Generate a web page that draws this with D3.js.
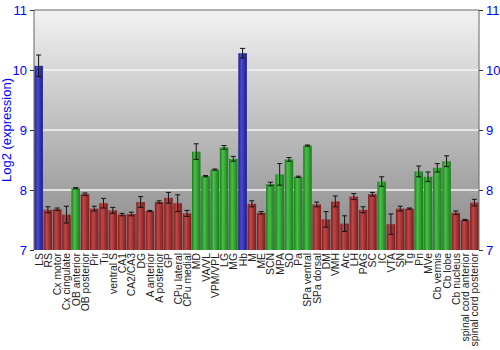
<!DOCTYPE html>
<html><head><meta charset="utf-8">
<script src="https://cdn.jsdelivr.net/npm/d3@7"></script>
<style>body{margin:0;background:#fff}</style>
</head><body>
<svg id="c" width="500" height="350"></svg>
<script>
const categories = ["LS","RS","Cx motor","Cx cingulate","OB anterior","OB posterior","Pir","Tu","ventral S","CA1","CA2/CA3","DG","A anterior","A posterior","GP","CPu lateral","CPu medial","MD","VA/VL","VPM/VPL","LG","MG","Hb","M","ME","SCN","MPA","SO","Pa","SPa ventral","SPa dorsal","DM","VMH","Arc","LH","PAG","SC","IC","VTA","SN","Tg","Pn","MVe","Cb vermis","Cb lobe","Cb nucleus","spinal cord anterior","spinal cord posterior"];
const values = [10.07,7.67,7.68,7.59,8.03,7.93,7.69,7.78,7.66,7.59,7.6,7.8,7.65,7.8,7.87,7.78,7.61,8.64,8.23,8.34,8.71,8.52,10.28,7.77,7.62,8.1,8.26,8.51,8.22,8.74,7.76,7.51,7.81,7.44,7.89,7.67,7.93,8.14,7.43,7.69,7.69,8.31,8.22,8.37,8.48,7.62,7.5,7.79];
const errors = [0.18,0.05,0.02,0.14,0.01,0.02,0.04,0.08,0.05,0.02,0.03,0.09,0.01,0.02,0.09,0.14,0.05,0.13,0.01,0.01,0.03,0.04,0.08,0.05,0.02,0.03,0.18,0.03,0.01,0.01,0.04,0.13,0.09,0.13,0.05,0.05,0.03,0.08,0.17,0.04,0.01,0.09,0.08,0.07,0.09,0.03,0.01,0.055];
const groups = ["b","r","r","r","g","r","r","r","r","r","r","r","r","r","r","r","r","g","g","g","g","g","b","r","r","g","g","g","g","g","r","r","r","r","r","r","r","g","r","r","r","g","g","g","g","r","r","r"];
const yTicks = [7,8,9,10,11];

const svg = d3.select("#c");
const m = {l:34, r:479, t:10, b:250};
const x = d3.scaleBand().domain(categories).range([m.l, m.r]).paddingInner(0.08).paddingOuter(0.04);
const y = d3.scaleLinear().domain([7,11]).range([m.b, m.t]);

const defs = svg.append("defs");
const bg = defs.append("linearGradient").attr("id","bg").attr("x1",0).attr("y1",0).attr("x2",0).attr("y2",1);
bg.append("stop").attr("offset","0%").attr("stop-color","#f2f2f2");
bg.append("stop").attr("offset","100%").attr("stop-color","#878787");
const cols = {b:["#1c1c8c","#4a4ad0"], r:["#7a1c1c","#c04848"], g:["#1c7a1c","#48c048"]};
Object.entries(cols).forEach(([k,c])=>{
  const g = defs.append("linearGradient").attr("id","g"+k).attr("x1",0).attr("y1",0).attr("x2",1).attr("y2",0);
  g.append("stop").attr("offset","0%").attr("stop-color",c[0]);
  g.append("stop").attr("offset","35%").attr("stop-color",c[1]);
  g.append("stop").attr("offset","100%").attr("stop-color",c[0]);
});

svg.append("rect").attr("x",m.l).attr("y",m.t).attr("width",m.r-m.l).attr("height",m.b-m.t).attr("fill","url(#bg)");
svg.append("g").selectAll("line").data(yTicks.slice(1,4)).join("line")
  .attr("x1",m.l).attr("x2",m.r).attr("y1",d=>y(d)).attr("y2",d=>y(d))
  .attr("stroke","#f4f4f4").attr("stroke-width",1.5);

svg.append("g").selectAll("rect").data(categories).join("rect")
  .attr("x",d=>x(d)).attr("width",x.bandwidth())
  .attr("y",(d,i)=>y(values[i])).attr("height",(d,i)=>m.b-y(values[i]))
  .attr("fill",(d,i)=>"url(#g"+groups[i]+")");

const eb = svg.append("g").attr("stroke","#111").attr("stroke-width",1);
categories.forEach((c,i)=>{
  const cx = x(c)+x.bandwidth()/2;
  const y1 = y(values[i]+errors[i]), y2 = y(values[i]-errors[i]);
  eb.append("line").attr("x1",cx).attr("x2",cx).attr("y1",y1).attr("y2",y2);
  eb.append("line").attr("x1",cx-2.5).attr("x2",cx+2.5).attr("y1",y1).attr("y2",y1);
  eb.append("line").attr("x1",cx-2.5).attr("x2",cx+2.5).attr("y1",y2).attr("y2",y2);
});

svg.append("path").attr("d",`M${m.l},${m.b}V${m.t}H${m.r}V${m.b}`).attr("fill","none").attr("stroke","#666");

const styleAxis = g=>{
  g.select(".domain").remove();
  g.selectAll(".tick line").attr("stroke","#333");
  g.selectAll(".tick text").attr("fill","#0000ff").style("font-family","Liberation Sans, Arial, sans-serif").style("font-size","13px");
};
svg.append("g").attr("transform",`translate(${m.l},0)`)
  .call(d3.axisLeft(y).tickValues(yTicks).tickFormat(d3.format("d")).tickSize(4).tickPadding(3)).call(styleAxis);
svg.append("g").attr("transform",`translate(${m.r},0)`)
  .call(d3.axisRight(y).tickValues(yTicks).tickFormat(d3.format("d")).tickSize(4).tickPadding(3)).call(styleAxis);

svg.append("text").attr("transform",`translate(11,${(m.t+m.b)/2}) rotate(-90)`)
  .attr("text-anchor","middle").attr("fill","#0000ff")
  .style("font-family","Liberation Sans, Arial, sans-serif").style("font-size","13px")
  .text("Log2 (expression)");

svg.append("g").selectAll("text").data(categories).join("text")
  .attr("transform",d=>`translate(${x(d)+x.bandwidth()/2+4},${m.b+3}) rotate(-90)`)
  .attr("text-anchor","end").attr("fill","#222")
  .style("font-family","Liberation Sans, Arial, sans-serif").style("font-size","10.4px")
  .text(d=>d);
</script>
</body></html>
